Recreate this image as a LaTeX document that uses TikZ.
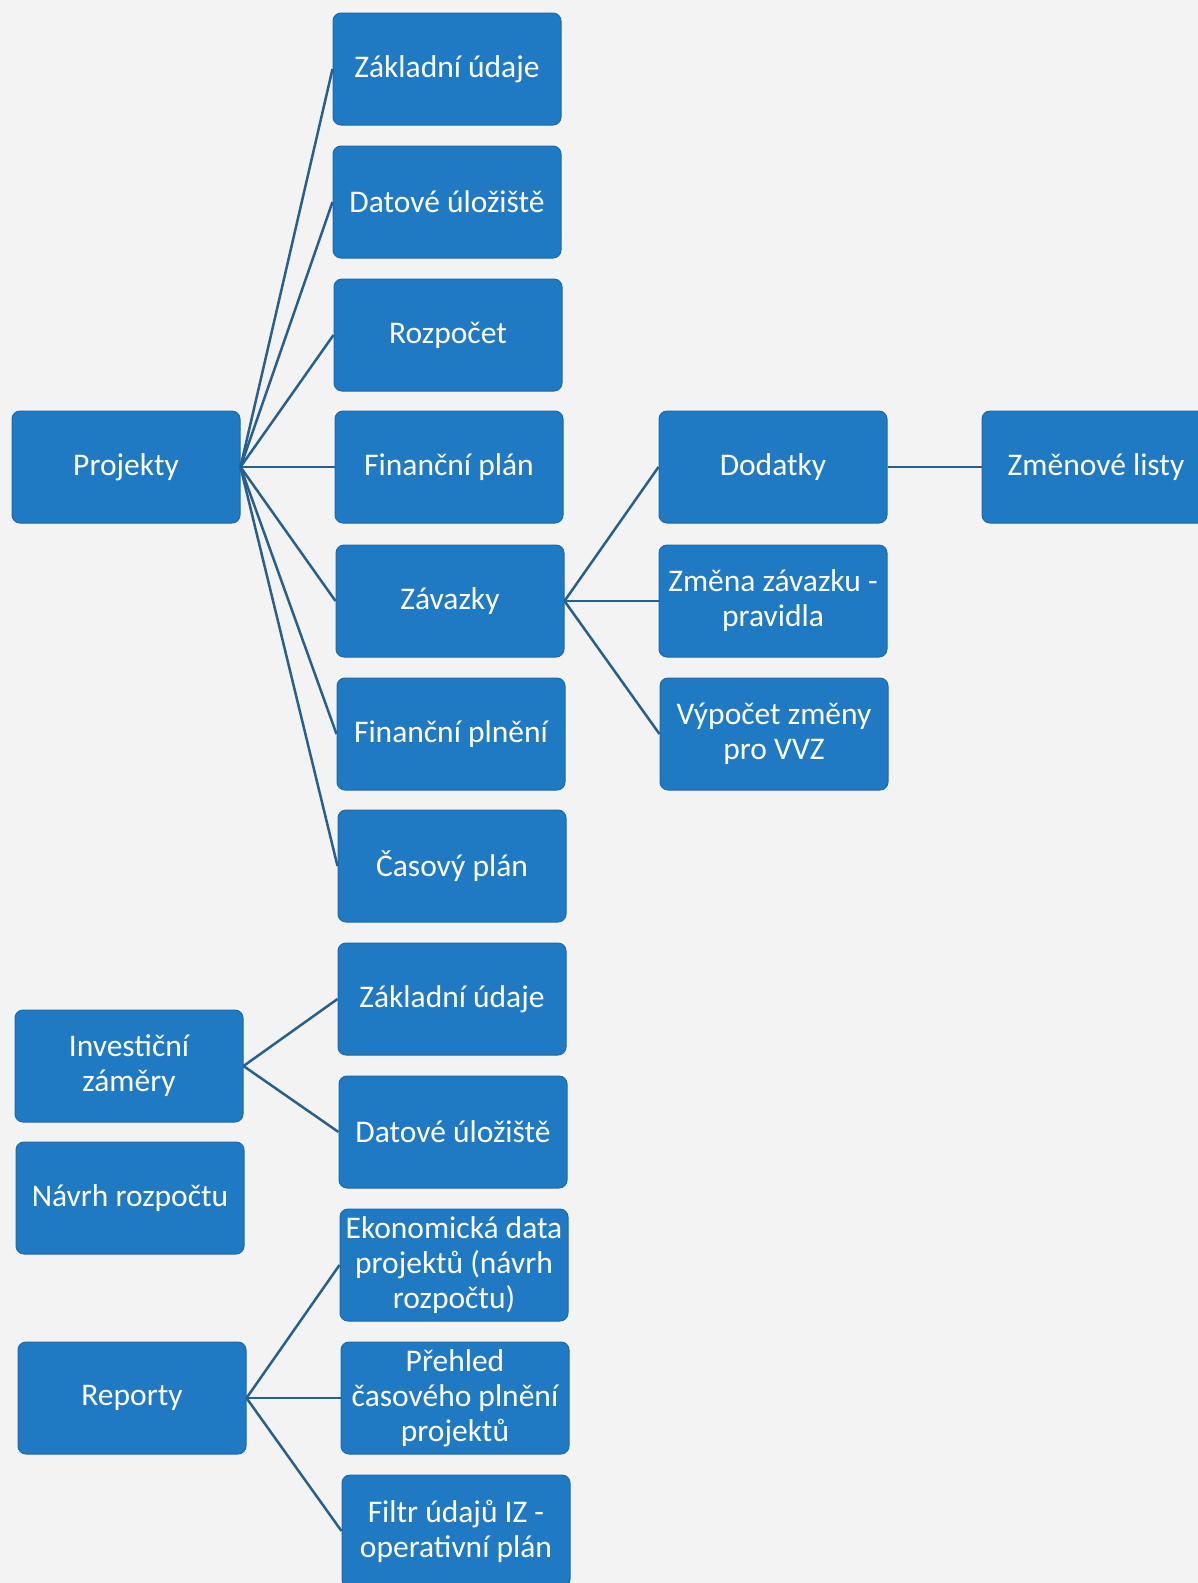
\documentclass[tikz,border=0pt]{standalone}
\usepackage{fontspec}
\setmainfont{Carlito}
\definecolor{boxblue}{RGB}{31,121,195}
\definecolor{boxedge}{RGB}{26,106,172}
\definecolor{linkblue}{RGB}{40,95,140}
\definecolor{bg}{RGB}{243,243,243}
\begin{document}
\begin{tikzpicture}[x=1pt,y=-1pt,
  box/.style={rectangle, rounded corners=8pt, fill=boxblue, draw=boxedge, line width=1pt,
    minimum width=228pt, minimum height=112pt, align=center,
    text=white, inner sep=0pt, font=\fontsize{31.5}{35}\selectfont},
  link/.style={draw=linkblue, line width=2.5pt}]
\fill[bg] (0,0) rectangle (1198,1583);
\useasboundingbox (0,0) rectangle (1198,1583);
% first group
\node[box] (proj) at (126,467) {Projekty};
\node[box] (zak1) at (447,69) {Základní údaje};
\node[box] (dat1) at (447,202) {Datové úložiště};
\node[box] (roz) at (448,335) {Rozpočet};
\node[box] (fplan) at (449,467) {Finanční plán};
\node[box] (zav) at (450,601) {Závazky};
\node[box] (fpln) at (451,734) {Finanční plnění};
\node[box] (cas) at (452,866) {Časový plán};
\node[box] (dod) at (773,467) {Dodatky};
\node[box] (zml) at (1096,467) {Změnové listy};
\node[box] (zmena) at (773,601) {Změna závazku -\\pravidla};
\node[box] (vyp) at (774,734) {Výpočet změny\\pro VVZ};
% second group
\node[box] (inv) at (129,1066) {Investiční\\záměry};
\node[box] (zak2) at (452,999) {Základní údaje};
\node[box] (dat2) at (453,1132) {Datové úložiště};
\node[box] (navrh) at (130,1198) {Návrh rozpočtu};
% third group
\node[box] (rep) at (132,1398) {Reporty};
\node[box] (eko) at (454,1265) {Ekonomická data\\projektů (návrh\\rozpočtu)};
\node[box] (pre) at (455,1398) {Přehled\\časového plnění\\projektů};
\node[box] (fil) at (456,1531) {Filtr údajů IZ -\\operativní plán};
% connectors
\foreach \t in {zak1,dat1,roz,fplan,zav,fpln,cas}
  \draw[link] (proj.east) -- (\t.west);
\foreach \t in {dod,zmena,vyp}
  \draw[link] (zav.east) -- (\t.west);
\draw[link] (dod.east) -- (zml.west);
\foreach \t in {zak2,dat2}
  \draw[link] (inv.east) -- (\t.west);
\foreach \t in {eko,pre,fil}
  \draw[link] (rep.east) -- (\t.west);
\end{tikzpicture}
\end{document}
